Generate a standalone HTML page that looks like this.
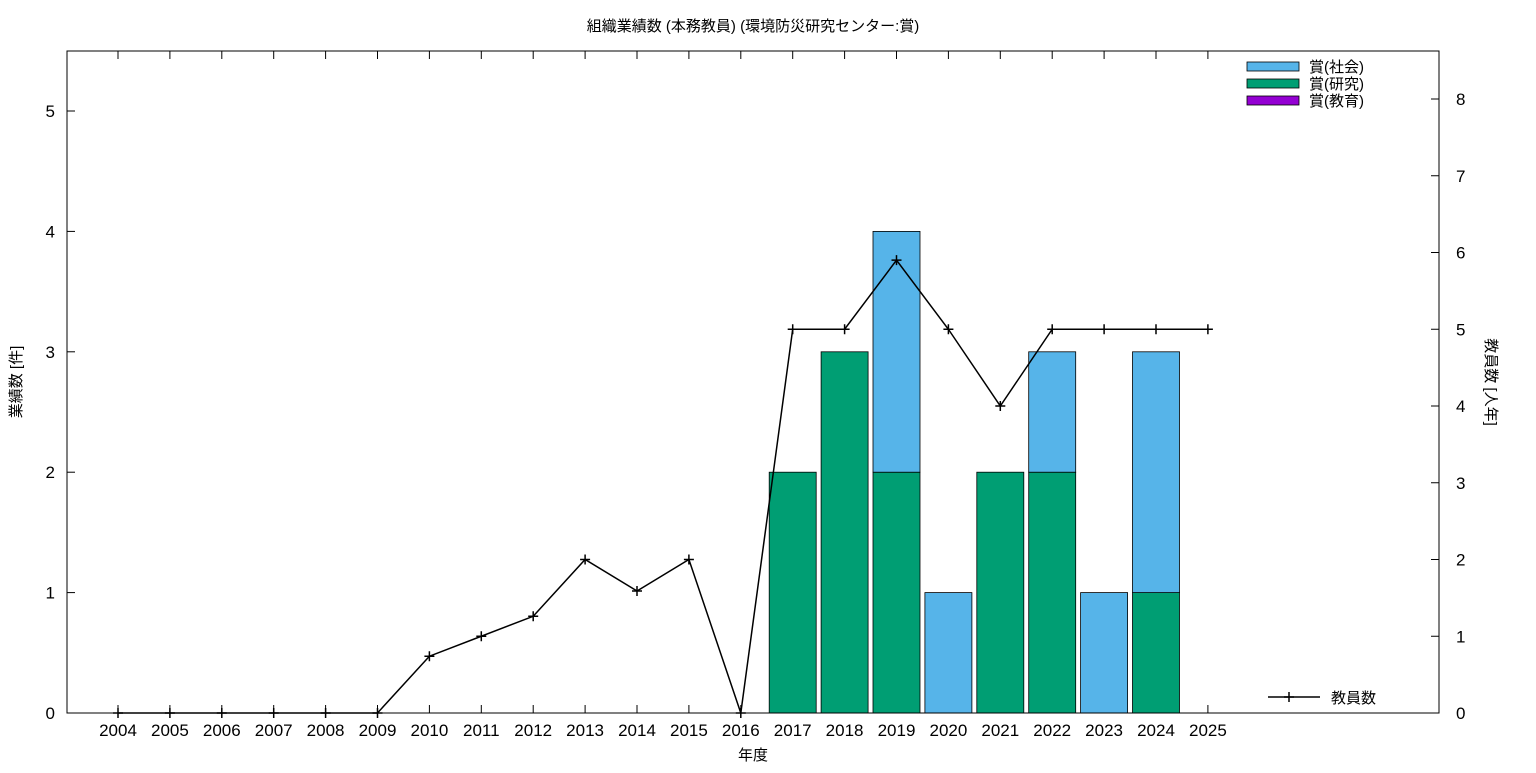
<!DOCTYPE html>
<html><head><meta charset="utf-8">
<style>
body{margin:0;background:#fff;}
svg text{font-family:"Liberation Sans","Noto Sans CJK JP",sans-serif;fill:#000;}
</style></head>
<body>
<svg width="1536" height="768" xmlns="http://www.w3.org/2000/svg">
<text x="753" y="31" font-size="15" text-anchor="middle">組織業績数 (本務教員) (環境防災研究センター:賞)</text>
<g id="plot"></g>
<rect x="67" y="51" width="1372" height="662" fill="none" stroke="#000" stroke-width="1"/>
<text transform="translate(21,382) rotate(-90)" font-size="15" text-anchor="middle">業績数 [件]</text>
<text transform="translate(1486,382) rotate(90)" font-size="15" text-anchor="middle">教員数 [人年]</text>
<text x="753" y="760" font-size="15" text-anchor="middle">年度</text>
<g font-size="15">
<rect x="1247" y="62" width="52" height="9" fill="#56b4e9" stroke="#000" stroke-width="0.8"/>
<text x="1309" y="72">賞(社会)</text>
<rect x="1247" y="79" width="52" height="9" fill="#009e73" stroke="#000" stroke-width="0.8"/>
<text x="1309" y="89">賞(研究)</text>
<rect x="1247" y="96" width="52" height="9" fill="#9400d3" stroke="#000" stroke-width="0.8"/>
<text x="1309" y="106">賞(教育)</text>
<line x1="1268" y1="697" x2="1320" y2="697" stroke="#000" stroke-width="1.5"/>
<path d="M1289 692v10M1284 697h10" stroke="#000" stroke-width="1.5"/>
<text x="1331" y="703">教員数</text>
</g>
</svg>
<script>
const years=[2004,2005,2006,2007,2008,2009,2010,2011,2012,2013,2014,2015,2016,2017,2018,2019,2020,2021,2022,2023,2024,2025];
const research=[0,0,0,0,0,0,0,0,0,0,0,0,0,2,3,2,0,2,2,0,1,0];
const social=[0,0,0,0,0,0,0,0,0,0,0,0,0,0,0,2,1,0,1,1,2,0];
const education=[0,0,0,0,0,0,0,0,0,0,0,0,0,0,0,0,0,0,0,0,0,0];
const staff=[0,0,0,0,0,0,0.74,1.0,1.26,2.0,1.59,2.0,0,5,5,5.9,5,4,5,5,5,5];
const yTicks=[0,1,2,3,4,5];
const y2Ticks=[0,1,2,3,4,5,6,7,8];
const NS='http://www.w3.org/2000/svg';
const g=document.getElementById('plot');
const X=i=>118+i*51.9;
const Y=v=>713-v*120.4;
const Y2=v=>713-v*76.75;
function mk(t,a,txt){const e=document.createElementNS(NS,t);for(const k in a)e.setAttribute(k,a[k]);if(txt!==undefined)e.textContent=txt;g.appendChild(e);return e;}
yTicks.forEach(v=>{
 const l=mk('line',{x1:67,x2:75,y1:Y(v),y2:Y(v),stroke:'#000'});
 
 const t=mk('text',{x:55,y:Y(v)+6,'font-size':17,'text-anchor':'end'},v);
 
});
y2Ticks.forEach(v=>{
 const l=mk('line',{x1:1431,x2:1439,y1:Y2(v),y2:Y2(v),stroke:'#000'});
 
 const t=mk('text',{x:1456,y:Y2(v)+6,'font-size':17},v);
 
});
years.forEach((yr,i)=>{
 const l=mk('line',{x1:X(i),x2:X(i),y1:713,y2:705,stroke:'#000'});
 
 const l2=mk('line',{x1:X(i),x2:X(i),y1:51,y2:59,stroke:'#000'});
 
 const t=mk('text',{x:X(i),y:736,'font-size':17,'text-anchor':'middle'},yr);
 
});
years.forEach((yr,i)=>{
 let base=0;
 [[research,'#009e73','bar-research'],[social,'#56b4e9','bar-social'],[education,'#9400d3','bar-education']].forEach(([arr,c,n])=>{
  const v=arr[i]; if(v<=0)return;
  const r=mk('rect',{x:X(i)-23.5,width:47,y:Y(base+v),height:Y(base)-Y(base+v),fill:c,stroke:'#000','stroke-width':0.8});
  
  base+=v;
 });
});
const p=mk('polyline',{points:staff.map((v,i)=>X(i)+','+Y2(v)).join(' '),fill:'none',stroke:'#000','stroke-width':1.5});

staff.forEach((v,i)=>{
 const m=mk('path',{d:`M${X(i)} ${Y2(v)-5}v10M${X(i)-5} ${Y2(v)}h10`,stroke:'#000','stroke-width':1.5});
 
});
</script>
</body></html>
